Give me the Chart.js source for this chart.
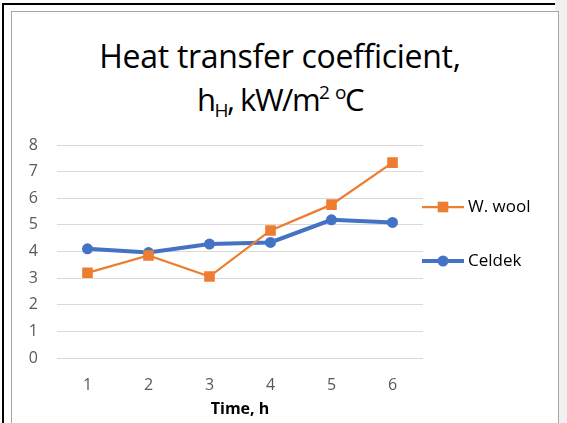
<!DOCTYPE html>
<html>
<head>
<meta charset="utf-8">
<script src="https://cdn.jsdelivr.net/npm/chart.js@4"></script>
<style>
body{margin:0;width:567px;height:423px;overflow:hidden;background:#fff;font-family:"Open Sans",sans-serif;}
.blk{position:absolute;background:#000;}
#side{position:absolute;left:555px;top:0;width:12px;height:423px;background:#f0f0f0;}
#box{position:absolute;left:11px;top:11px;width:546px;height:430px;border:1.5px solid #a6a6a6;background:#fff;}
#title{position:absolute;left:0;width:560px;top:34px;text-align:center;font-size:32px;line-height:43px;color:#000;letter-spacing:-0.3px;}
#title .l2{font-size:31px;letter-spacing:-1.5px;}
#title sub{font-size:19px;vertical-align:-6px;line-height:0;}
#title sup{font-size:19px;vertical-align:12px;line-height:0;}
#wrap{position:absolute;left:13px;top:125px;width:544px;height:298px;}
</style>
</head>
<body>
<div id="side"></div>
<div id="box"></div>
<div class="blk" style="left:2px;top:3px;width:2px;height:420px"></div>
<div class="blk" style="left:2px;top:3px;width:553px;height:2px"></div>
<div id="title">Heat transfer coefficient,<br><span class="l2">h<sub>H</sub>, kW/m<sup>2</sup> <sup>o</sup>C</span></div>
<div id="wrap"><canvas id="heatChart"></canvas></div>
<script>

// values
const hours = ["1","2","3","4","5","6"];
const woolValues = [3.2, 3.85, 3.06, 4.79, 5.76, 7.34];
const celdekValues = [4.1, 3.96, 4.28, 4.34, 5.19, 5.09];


// legend on the right: line + marker, like the spreadsheet one
const sideLegend = {
id:"sideLegend",
afterDraw(chart){
const c = chart.ctx;
const ys = [82, 136];
chart.data.datasets.forEach((ds, i)=>{
const y = ys[i];
c.save();
c.strokeStyle = ds.borderColor;
c.fillStyle = ds.backgroundColor;
c.lineWidth = ds.borderWidth;
c.beginPath();
c.moveTo(409, y);
c.lineTo(451, y);
c.stroke();
Chart.helpers.drawPoint(c, {
pointStyle: ds.pointStyle,
radius: ds.pointRadius,
borderWidth: 0
}, 430, y);
c.fillStyle = "#000";
c.font = "17px 'Open Sans'";
c.textBaseline = "middle";
c.fillText(ds.label, 455, y);
c.restore();
});
}
};


new Chart(document.getElementById("heatChart"), {

type:"line",

data:{
labels:hours,
datasets:[
{
label:"W. wool",
data:woolValues,
borderColor:"#ed7d31",
backgroundColor:"#ed7d31",
borderWidth:2.25,
pointStyle:"rect",
pointRadius:7.5,
pointBorderWidth:0,
tension:0
},
{
label:"Celdek",
data:celdekValues,
borderColor:"#4472c4",
backgroundColor:"#4472c4",
borderWidth:4,
pointStyle:"circle",
pointRadius:5.5,
pointBorderWidth:0,
tension:0
}
]
},

options:{
responsive:true,
maintainAspectRatio:false,
animation:false,
layout:{padding:{top:20, right:134, left:0, bottom:0}},
plugins:{
legend:{display:false},
tooltip:{enabled:false}
},
scales:{
x:{
offset:true,
grid:{display:false},
border:{display:false},
ticks:{color:"#595959", font:{family:"Open Sans", size:16}, padding:10},
title:{display:true, text:"Time, h", color:"#000", font:{family:"Open Sans", size:16, weight:"bold"}, padding:{top:4}},
afterFit(s){ s.height = 65; }
},
y:{
min:0,
max:8,
grid:{color:"#d9d9d9", drawTicks:false},
border:{display:false},
ticks:{stepSize:1, color:"#595959", font:{family:"Open Sans", size:16}, padding:19},
// keep the plot area at the same place as the reference
afterFit(s){ s.width = 44; s.paddingTop = 0; s.paddingBottom = 0; }
}
}
},

plugins:[sideLegend]

});

</script>
</body>
</html>
